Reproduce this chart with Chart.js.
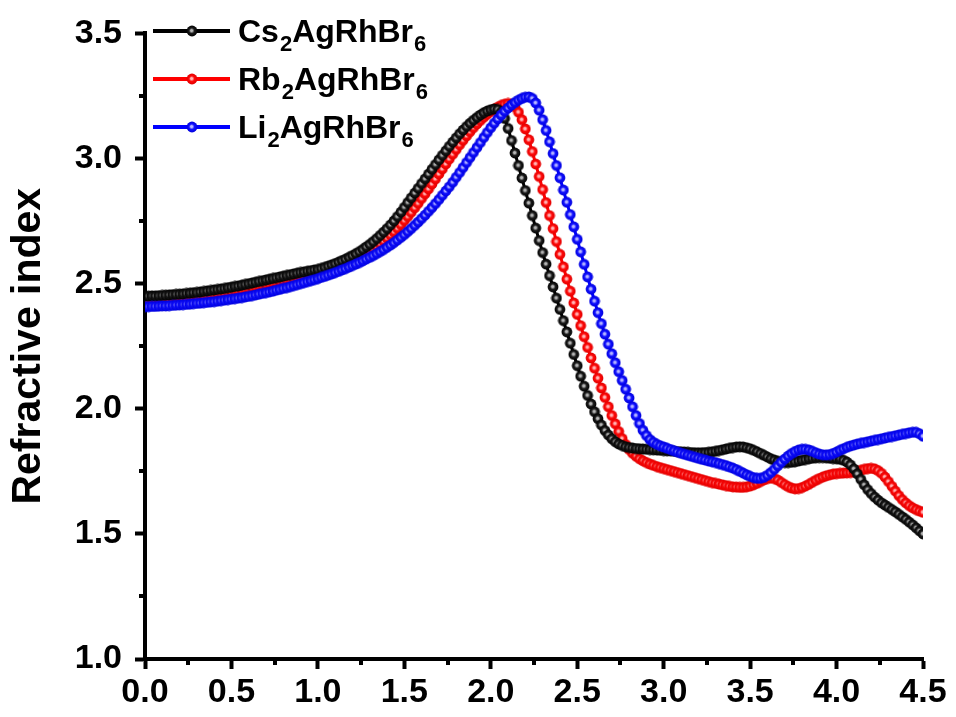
<!DOCTYPE html>
<html>
<head>
<meta charset="utf-8">
<script src="https://cdn.jsdelivr.net/npm/chart.js@4.4.1/dist/chart.umd.min.js"></script>
<style>
  html, body { margin: 0; padding: 0; background: #ffffff; }
  #wrap { width: 956px; height: 717px; }
</style>
</head>
<body>
<div id="wrap"><canvas id="chart" width="956" height="717"></canvas></div>
<script>
// Refractive index n(E) of three A2AgRhBr6 double perovskites, sampled every 0.02 eV from 0 to 4.5 eV.
const energyStep = 0.02;

const seriesNames = ['Cs\u2082AgRhBr\u2086', 'Rb\u2082AgRhBr\u2086', 'Li\u2082AgRhBr\u2086'];

const csIndex = [
  2.450, 2.450, 2.451, 2.451, 2.452,
  2.453, 2.454, 2.455, 2.456, 2.457,
  2.458, 2.459, 2.461, 2.462, 2.464,
  2.465, 2.467, 2.469, 2.471, 2.473,
  2.475, 2.477, 2.479, 2.481, 2.484,
  2.486, 2.489, 2.491, 2.494, 2.497,
  2.500, 2.503, 2.506, 2.509, 2.512,
  2.515, 2.518, 2.521, 2.524, 2.527,
  2.530, 2.533, 2.536, 2.539, 2.542,
  2.545, 2.547, 2.550, 2.552, 2.555,
  2.557, 2.561, 2.565, 2.570, 2.575,
  2.580, 2.586, 2.592, 2.598, 2.605,
  2.612, 2.620, 2.628, 2.637, 2.647,
  2.657, 2.668, 2.680, 2.693, 2.706,
  2.720, 2.735, 2.751, 2.768, 2.786,
  2.805, 2.824, 2.843, 2.862, 2.881,
  2.900, 2.919, 2.938, 2.957, 2.976,
  2.995, 3.013, 3.031, 3.049, 3.066,
  3.083, 3.099, 3.114, 3.128, 3.141,
  3.153, 3.164, 3.174, 3.183, 3.190,
  3.195, 3.198, 3.196, 3.185, 3.160,
  3.120, 3.072, 3.022, 2.972, 2.922,
  2.872, 2.822, 2.772, 2.722, 2.672,
  2.624, 2.578, 2.532, 2.487, 2.442,
  2.397, 2.352, 2.307, 2.262, 2.217,
  2.172, 2.130, 2.090, 2.053, 2.019,
  1.988, 1.960, 1.935, 1.913, 1.895,
  1.880, 1.868, 1.859, 1.853, 1.848,
  1.845, 1.843, 1.841, 1.840, 1.839,
  1.838, 1.837, 1.836, 1.835, 1.834,
  1.833, 1.832, 1.831, 1.830, 1.829,
  1.828, 1.827, 1.826, 1.825, 1.824,
  1.824, 1.824, 1.825, 1.826, 1.828,
  1.830, 1.833, 1.836, 1.839, 1.842,
  1.845, 1.847, 1.848, 1.847, 1.844,
  1.840, 1.834, 1.828, 1.821, 1.814,
  1.807, 1.800, 1.795, 1.790, 1.787,
  1.785, 1.785, 1.786, 1.788, 1.791,
  1.794, 1.797, 1.800, 1.802, 1.804,
  1.805, 1.805, 1.804, 1.802, 1.801,
  1.800, 1.798, 1.794, 1.787, 1.776,
  1.760, 1.740, 1.718, 1.696, 1.677,
  1.661, 1.647, 1.635, 1.624, 1.615,
  1.606, 1.597, 1.588, 1.578, 1.568,
  1.558, 1.547, 1.536, 1.524, 1.512,
  1.500
];

const rbIndex = [
  2.432, 2.432, 2.433, 2.433, 2.434,
  2.435, 2.436, 2.437, 2.438, 2.439,
  2.440, 2.441, 2.443, 2.444, 2.446,
  2.447, 2.449, 2.451, 2.453, 2.455,
  2.457, 2.459, 2.461, 2.463, 2.466,
  2.468, 2.471, 2.473, 2.476, 2.479,
  2.482, 2.485, 2.488, 2.491, 2.494,
  2.497, 2.500, 2.503, 2.506, 2.509,
  2.512, 2.515, 2.518, 2.521, 2.524,
  2.527, 2.530, 2.533, 2.536, 2.539,
  2.542, 2.546, 2.550, 2.554, 2.558,
  2.563, 2.568, 2.573, 2.579, 2.585,
  2.591, 2.598, 2.605, 2.613, 2.621,
  2.630, 2.639, 2.649, 2.659, 2.670,
  2.682, 2.694, 2.707, 2.721, 2.736,
  2.752, 2.768, 2.785, 2.803, 2.821,
  2.840, 2.859, 2.878, 2.898, 2.918,
  2.938, 2.958, 2.978, 2.998, 3.017,
  3.036, 3.055, 3.073, 3.090, 3.107,
  3.123, 3.138, 3.152, 3.165, 3.177,
  3.188, 3.197, 3.205, 3.212, 3.217,
  3.220, 3.218, 3.207, 3.185, 3.155,
  3.118, 3.075, 3.028, 2.978, 2.928,
  2.876, 2.824, 2.772, 2.720, 2.668,
  2.617, 2.567, 2.518, 2.470, 2.423,
  2.377, 2.332, 2.288, 2.245, 2.203,
  2.162, 2.122, 2.083, 2.045, 2.008,
  1.973, 1.940, 1.909, 1.881, 1.857,
  1.837, 1.822, 1.810, 1.800, 1.792,
  1.785, 1.779, 1.774, 1.769, 1.765,
  1.761, 1.757, 1.753, 1.749, 1.745,
  1.741, 1.737, 1.733, 1.729, 1.725,
  1.721, 1.717, 1.713, 1.709, 1.705,
  1.702, 1.699, 1.696, 1.693, 1.690,
  1.688, 1.687, 1.686, 1.686, 1.688,
  1.691, 1.696, 1.702, 1.709, 1.716,
  1.721, 1.723, 1.721, 1.715, 1.706,
  1.697, 1.689, 1.683, 1.680, 1.681,
  1.685, 1.691, 1.698, 1.706, 1.714,
  1.721, 1.727, 1.732, 1.736, 1.739,
  1.741, 1.742, 1.743, 1.744, 1.745,
  1.747, 1.750, 1.754, 1.758, 1.761,
  1.762, 1.760, 1.753, 1.742, 1.727,
  1.709, 1.690, 1.671, 1.653, 1.637,
  1.624, 1.613, 1.604, 1.597, 1.591,
  1.586
];

const liIndex = [
  2.408, 2.408, 2.409, 2.409, 2.410,
  2.411, 2.411, 2.412, 2.413, 2.414,
  2.415, 2.416, 2.417, 2.418, 2.420,
  2.421, 2.422, 2.424, 2.425, 2.427,
  2.428, 2.430, 2.432, 2.434, 2.436,
  2.438, 2.440, 2.442, 2.444, 2.447,
  2.449, 2.452, 2.455, 2.458, 2.461,
  2.464, 2.467, 2.470, 2.474, 2.477,
  2.481, 2.484, 2.488, 2.492, 2.496,
  2.500, 2.504, 2.508, 2.512, 2.516,
  2.520, 2.525, 2.529, 2.534, 2.539,
  2.544, 2.549, 2.555, 2.560, 2.566,
  2.572, 2.578, 2.584, 2.591, 2.598,
  2.605, 2.612, 2.620, 2.628, 2.636,
  2.645, 2.654, 2.664, 2.674, 2.685,
  2.696, 2.708, 2.720, 2.733, 2.746,
  2.760, 2.774, 2.789, 2.804, 2.820,
  2.836, 2.853, 2.870, 2.887, 2.905,
  2.925, 2.944, 2.964, 2.984, 3.004,
  3.024, 3.044, 3.064, 3.084, 3.104,
  3.123, 3.141, 3.158, 3.174, 3.189,
  3.202, 3.214, 3.224, 3.233, 3.240,
  3.245, 3.246, 3.240, 3.222, 3.193,
  3.155, 3.112, 3.067, 3.020, 2.972,
  2.923, 2.874, 2.825, 2.776, 2.727,
  2.677, 2.627, 2.577, 2.527, 2.478,
  2.430, 2.384, 2.340, 2.298, 2.258,
  2.220, 2.184, 2.148, 2.113, 2.078,
  2.043, 2.008, 1.973, 1.941, 1.914,
  1.893, 1.877, 1.866, 1.858, 1.852,
  1.847, 1.842, 1.837, 1.832, 1.827,
  1.822, 1.818, 1.814, 1.810, 1.806,
  1.802, 1.798, 1.795, 1.791, 1.788,
  1.785, 1.781, 1.777, 1.773, 1.768,
  1.763, 1.757, 1.750, 1.743, 1.736,
  1.730, 1.725, 1.722, 1.722, 1.726,
  1.734, 1.745, 1.758, 1.772, 1.786,
  1.799, 1.811, 1.821, 1.829, 1.835,
  1.838, 1.838, 1.835, 1.830, 1.824,
  1.819, 1.816, 1.815, 1.817, 1.821,
  1.827, 1.834, 1.840, 1.846, 1.851,
  1.855, 1.859, 1.862, 1.865, 1.868,
  1.871, 1.874, 1.877, 1.880, 1.883,
  1.886, 1.889, 1.892, 1.895, 1.898,
  1.901, 1.904, 1.906, 1.906, 1.900,
  1.890
];

const xTickValues = [0, 0.5, 1.0, 1.5, 2.0, 2.5, 3.0, 3.5, 4.0, 4.5];
const yTickValues = [1.0, 1.5, 2.0, 2.5, 3.0, 3.5];

const FONT = '"Liberation Sans", Arial, Helvetica, sans-serif';

// Shaded ball used as the point marker
function makeBall(base, light, dark, r) {
  const size = Math.ceil(r * 2) + 1;
  const cv = document.createElement('canvas');
  cv.width = size; cv.height = size;
  const g = cv.getContext('2d');
  const c = size / 2;
  const grad = g.createRadialGradient(c - 0.5, c - 0.5, 0, c, c, r);
  grad.addColorStop(0, light);
  grad.addColorStop(0.18, light);
  grad.addColorStop(0.5, base);
  grad.addColorStop(1, dark);
  g.fillStyle = grad;
  g.beginPath();
  g.arc(c, c, r, 0, Math.PI * 2);
  g.fill();
  return cv;
}

const styles = [
  { line: '#000000', ball: makeBall('#1c1c1c', '#b8b8b8', '#000000', 5.4), order: 1 },
  { line: '#ff0000', ball: makeBall('#ff0a0a', '#ffb8b8', '#e00000', 5.4), order: 2 },
  { line: '#0000ff', ball: makeBall('#1010ff', '#b8b8ff', '#0000dc', 5.4), order: 0 }
];

function toPoints(values) {
  return values.map((n, i) => ({ x: +(i * energyStep).toFixed(2), y: n }));
}

const seriesValues = [csIndex, rbIndex, liIndex];

const datasets = seriesValues.map((vals, k) => ({
  label: seriesNames[k],
  data: toPoints(vals),
  borderColor: styles[k].line,
  backgroundColor: styles[k].line,
  borderWidth: 3,
  pointStyle: styles[k].ball,
  pointRadius: 5.4,
  pointHoverRadius: 5.4,
  tension: 0,
  order: styles[k].order
}));

// Draw a chemical formula with subscript digits
function drawFormula(ctx, text, x, y, size) {
  const subs = { '\u2080': '0', '\u2081': '1', '\u2082': '2', '\u2083': '3', '\u2084': '4',
                 '\u2085': '5', '\u2086': '6', '\u2087': '7', '\u2088': '8', '\u2089': '9' };
  let run = '';
  const flush = () => {
    if (!run) return;
    ctx.font = 'bold ' + size + 'px ' + FONT;
    ctx.fillText(run, x, y);
    x += ctx.measureText(run).width;
    run = '';
  };
  for (const ch of text) {
    if (subs[ch]) {
      flush();
      const s = Math.round(size * 0.68);
      ctx.font = 'bold ' + s + 'px ' + FONT;
      ctx.fillText(subs[ch], x + 1, y + size * 0.27);
      x += ctx.measureText(subs[ch]).width + 1;
    } else {
      run += ch;
    }
  }
  flush();
}

const axisExtras = {
  id: 'axisExtras',
  afterDraw(chart) {
    const { ctx, chartArea, scales } = chart;
    ctx.save();
    ctx.strokeStyle = '#000';
    ctx.lineWidth = 4;
    ctx.lineCap = 'butt';
    // minor ticks halfway between the labelled ones
    for (let i = 0; i < xTickValues.length - 1; i++) {
      const v = (xTickValues[i] + xTickValues[i + 1]) / 2;
      const px = Math.round(scales.x.getPixelForValue(v));
      ctx.beginPath();
      ctx.moveTo(px, chartArea.bottom);
      ctx.lineTo(px, chartArea.bottom + 6);
      ctx.stroke();
    }
    for (let i = 0; i < yTickValues.length - 1; i++) {
      const v = (yTickValues[i] + yTickValues[i + 1]) / 2;
      const py = Math.round(scales.y.getPixelForValue(v));
      ctx.beginPath();
      ctx.moveTo(chartArea.left - 6, py);
      ctx.lineTo(chartArea.left, py);
      ctx.stroke();
    }
    // legend: line with a marker, then the compound name
    const rowY = [31, 79, 127];
    chart.data.datasets.forEach((ds, k) => {
      const y = rowY[k];
      ctx.strokeStyle = ds.borderColor;
      ctx.lineWidth = 4;
      ctx.beginPath();
      ctx.moveTo(153, y);
      ctx.lineTo(230, y);
      ctx.stroke();
      const b = ds.pointStyle;
      ctx.drawImage(b, 192 - b.width / 2, y - b.height / 2);
      ctx.fillStyle = '#000';
      ctx.textBaseline = 'alphabetic';
      ctx.textAlign = 'left';
      drawFormula(ctx, ds.label, 238, y + 11, 32);
    });
    ctx.restore();
  }
};

const tickFont = { family: FONT, size: 34, weight: 'bold' };

new Chart(document.getElementById('chart'), {
  type: 'line',
  data: { datasets },
  options: {
    responsive: false,
    animation: false,
    events: [],
    layout: { padding: { left: 0, top: 33, right: 33, bottom: 0 } },
    plugins: {
      legend: { display: false },
      tooltip: { enabled: false }
    },
    scales: {
      x: {
        type: 'linear',
        min: 0,
        max: 4.5,
        afterBuildTicks: s => { s.ticks = xTickValues.map(v => ({ value: v })); },
        ticks: {
          callback: v => Number(v).toFixed(1),
          font: tickFont,
          color: '#000',
          padding: 3,
          maxRotation: 0,
          autoSkip: false
        },
        grid: { drawOnChartArea: false, drawTicks: true, tickLength: 10, tickWidth: 4, tickColor: '#000' },
        border: { display: true, color: '#000', width: 4 },
        afterFit: s => { s.height = 58; }
      },
      y: {
        type: 'linear',
        min: 1.0,
        max: 3.5,
        afterBuildTicks: s => { s.ticks = yTickValues.map(v => ({ value: v })); },
        ticks: {
          callback: v => Number(v).toFixed(1),
          font: tickFont,
          color: '#000',
          padding: 13
        },
        grid: { drawOnChartArea: false, drawTicks: true, tickLength: 10, tickWidth: 4, tickColor: '#000' },
        border: { display: true, color: '#000', width: 4 },
        title: {
          display: true,
          text: 'Refractive index',
          color: '#000',
          font: { family: FONT, size: 41, weight: 'bold' },
          padding: { top: 4, bottom: 0 }
        },
        afterFit: s => { s.width = 145; }
      }
    }
  },
  plugins: [axisExtras]
});
</script>
</body>
</html>
